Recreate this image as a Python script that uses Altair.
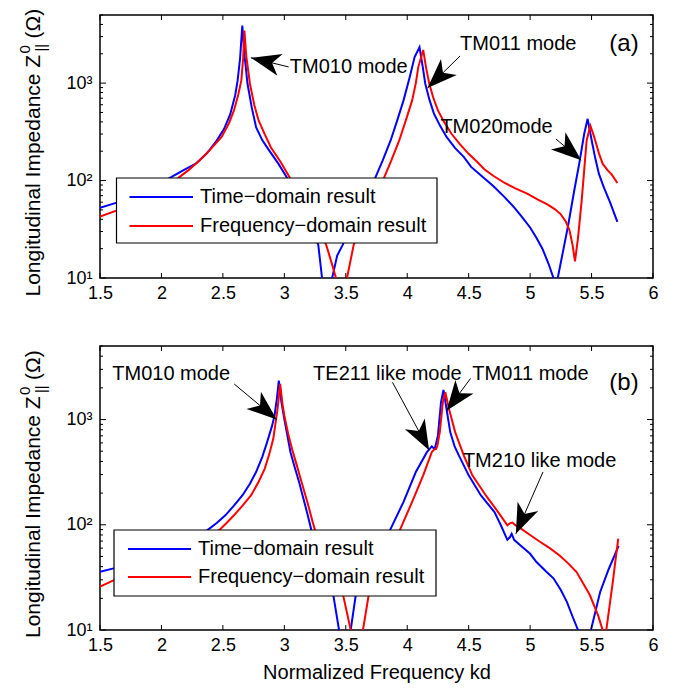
import math
import altair as alt
import pandas as pd

FONT = "Liberation Sans"
SERIES = ["Time\u2212domain result", "Frequency\u2212domain result"]
COLORS = ["#0000ff", "#ff0000"]
X_TICKS = [1.5, 2, 2.5, 3, 3.5, 4, 4.5, 5, 5.5, 6]
Y_LABELS = [10, 100, 1000]
Y_MINOR = [20, 30, 40, 50, 60, 70, 80, 90, 200, 300, 400, 500, 600, 700, 800, 900,
           2000, 3000, 4000, 5000]
X_DOMAIN = [1.5, 6]
Y_DOMAIN = [10, 5000]
X_TITLE = "Normalized Frequency kd"
Y_TITLE_MAIN = "Longitudinal Impedance Z"
Y_TITLE_SUP = "0"
Y_TITLE_SUB = "||"
Y_TITLE_END = "(\u03a9)"

# ---------------- panel (a) ----------------
a_time_x = [1.5, 1.65, 1.8, 1.95, 2.065, 2.18, 2.276, 2.37, 2.45, 2.51, 2.56, 2.60, 2.62, 2.64, 2.658,
            2.675, 2.70, 2.735, 2.77, 2.82, 2.876, 2.95, 3.018, 3.1, 3.2, 3.276, 3.307, 3.348, 3.389,
            3.43, 3.476, 3.55, 3.65, 3.73, 3.80, 3.865, 3.92, 3.97, 4.02, 4.06, 4.10, 4.125, 4.147,
            4.18, 4.218, 4.27, 4.32, 4.39, 4.46, 4.52, 4.61, 4.70, 4.79, 4.87, 4.93, 5.0, 5.05, 5.10,
            5.15, 5.19, 5.21, 5.225, 5.265, 5.31, 5.36, 5.40, 5.44, 5.468, 5.485, 5.506, 5.53, 5.56,
            5.60, 5.65, 5.71]
a_time_z = [52.6, 60, 70, 85, 106, 128, 148, 190, 257, 340, 480, 750, 1065, 1800, 3900,
            2000, 990, 560, 354, 260, 204, 150, 109, 65, 38, 22, 10, 4, 10,
            17, 22, 38, 65, 100, 160, 258, 420, 665, 1150, 1850, 2330, 1500, 985,
            680, 484, 360, 280, 215, 175, 138, 110, 88, 68, 53, 43, 33, 26, 20,
            14, 10, 7, 10, 18, 35, 80, 150, 300, 430, 330, 240, 170, 117,
            85, 60, 37.6]
a_freq_x = [1.5, 1.65, 1.8, 1.95, 2.135, 2.22, 2.31, 2.40, 2.49, 2.55, 2.59, 2.625, 2.65, 2.665, 2.675,
            2.69, 2.72, 2.755, 2.79, 2.84, 2.89, 2.97, 3.046, 3.15, 3.25, 3.34, 3.38, 3.42, 3.465, 3.51,
            3.565, 3.65, 3.73, 3.81, 3.87, 3.935, 3.99, 4.04, 4.07, 4.09, 4.13, 4.155, 4.18, 4.21, 4.25,
            4.30, 4.36, 4.43, 4.50, 4.57, 4.63, 4.70, 4.79, 4.88, 4.98, 5.06, 5.14, 5.20, 5.25, 5.29,
            5.32, 5.345, 5.365, 5.39, 5.42, 5.44, 5.46, 5.49, 5.51, 5.53, 5.56, 5.59, 5.63, 5.665, 5.71]
a_freq_z = [42.6, 50, 60, 72, 106, 128, 161, 210, 280, 390, 524, 760, 1065, 1800, 3460,
            1900, 985, 600, 416, 300, 220, 155, 106, 65, 38, 22, 15, 10, 4, 10,
            22, 40, 65, 106, 160, 258, 420, 665, 1000, 1460, 2190, 1400, 985, 720, 524,
            400, 302, 235, 188, 155, 130, 112, 95, 83, 73, 64, 57, 51, 45, 38,
            31, 22, 14.8, 26, 63, 127, 258, 366, 310, 258, 190, 149, 128, 115, 94.4]

a_note_text = ["TM010 mode", "TM011 mode", "TM020mode"]
a_note_x = [3.045, 4.43, 4.27]
a_note_z = [1480, 2512, 355]
a_arrow_tail_x = [3.035, 4.43, 5.21]
a_arrow_tail_z = [1466, 1901, 267]
a_arrow_head_x = [2.728, 4.165, 5.416]
a_arrow_head_z = [1820, 891, 162]
a_tag = "(a)"
a_tag_x = 5.645
a_tag_z = 2512

# ---------------- panel (b) ----------------
b_time_x = [1.5, 1.61, 1.8, 2.0, 2.2, 2.374, 2.45, 2.52, 2.59, 2.66, 2.72, 2.77, 2.82, 2.86, 2.90,
            2.92, 2.94, 2.955, 2.975, 3.0, 3.05, 3.085, 3.12, 3.19, 3.22, 3.30, 3.37, 3.40, 3.445, 3.49,
            3.54, 3.58, 3.70, 3.80, 3.86, 3.97, 4.07, 4.16, 4.20, 4.215, 4.225, 4.25, 4.275, 4.295, 4.32,
            4.35, 4.385, 4.42, 4.50, 4.60, 4.71, 4.76, 4.815, 4.835, 4.85, 4.87, 4.92, 5.0, 5.05, 5.13,
            5.19, 5.25, 5.30, 5.35, 5.39, 5.44, 5.495, 5.57, 5.64, 5.72]
b_time_z = [35.7, 38.5, 45, 55, 68, 89, 104, 123, 152, 191, 245, 317, 440, 610, 870,
            1090, 1600, 2340, 1500, 1010, 490, 350, 255, 124, 89, 50, 30, 21, 10, 5,
            10, 21, 40, 62, 89, 165, 317, 490, 555, 535, 530, 706, 1460, 1910, 1260,
            760, 560, 456, 295, 190, 132, 100, 72, 76, 82, 72, 64, 53, 44.5, 36,
            31, 24, 18.4, 13, 10, 6, 10, 23, 38, 63]
b_freq_x = [1.5, 1.61, 1.8, 2.0, 2.2, 2.35, 2.47, 2.53, 2.59, 2.66, 2.73, 2.79, 2.84, 2.88, 2.91,
            2.945, 2.966, 2.985, 3.0, 3.035, 3.07, 3.105, 3.14, 3.19, 3.23, 3.25, 3.35, 3.43, 3.48, 3.54,
            3.59, 3.64, 3.685, 3.80, 3.94, 4.04, 4.13, 4.20, 4.22, 4.235, 4.245, 4.265, 4.29, 4.31, 4.34,
            4.39, 4.46, 4.53, 4.64, 4.74, 4.815, 4.835, 4.856, 4.88, 4.92, 5.0, 5.08, 5.16, 5.24, 5.31,
            5.378, 5.43, 5.486, 5.554, 5.59, 5.605, 5.62, 5.67, 5.717]
b_freq_z = [25.8, 29.6, 36, 45, 58, 72, 89, 104, 123, 152, 191, 255, 340, 480, 656,
            1262, 2180, 1400, 1090, 700, 490, 355, 255, 160, 107, 89, 45, 28, 21, 10,
            5, 10, 21, 45, 89, 165, 295, 490, 520, 525, 560, 760, 1460, 1815, 1260,
            760, 456, 295, 190, 132, 99, 103, 105, 99, 93, 80, 69, 60, 51, 43,
            35.5, 28, 21.5, 13.7, 10, 6, 10, 27, 74]

b_note_text = ["TM010 mode", "TE211 like mode", "TM011 mode", "TM210 like mode"]
b_note_x = [1.60, 3.234, 4.53, 4.453]
b_note_z = [2710, 2710, 2710, 403]
b_arrow_tail_x = [2.592, 3.88, 4.515, 5.105]
b_arrow_tail_z = [2178, 2259, 2455, 318]
b_arrow_head_x = [2.938, 4.178, 4.32, 4.884]
b_arrow_head_z = [1000, 511, 1211, 82]
b_tag = "(b)"
b_tag_x = 5.645
b_tag_z = 2213

# ---------------- layout ----------------
W = 553
H_A = 263
H_B = 284
ARROW_PATH = "M0,0L-0.75,2L0,1.45L0.75,2Z"

XS = alt.Scale(domain=X_DOMAIN, nice=False, zero=False)
YS = alt.Scale(type="log", domain=Y_DOMAIN, nice=False)
ONE = pd.DataFrame({"k": [0]})


def px_x(x):
    return (x - X_DOMAIN[0]) / (X_DOMAIN[1] - X_DOMAIN[0]) * W


def px_y(v, H):
    lo, hi = math.log10(Y_DOMAIN[0]), math.log10(Y_DOMAIN[1])
    return (hi - math.log10(v)) / (hi - lo) * H


def x_axis(title):
    kw = dict(values=X_TICKS, format="~g", ticks=False, grid=False, domain=False,
              labelFont=FONT, labelFontSize=18, labelColor="black", labelPadding=6,
              labelFlush=False, labelOverlap=False)
    if title:
        kw.update(titleFont=FONT, titleFontSize=20, titleFontWeight="normal",
                  titleColor="black", titlePadding=8)
    return alt.Axis(**kw)


Y_AXIS = alt.Axis(values=Y_LABELS, ticks=False, grid=False, domain=False,
                  labelExpr="datum.value == 10 ? '10\u00b9' : datum.value == 100 ? '10\u00b2' : '10\u00b3'",
                  labelFont=FONT, labelFontSize=18, labelColor="black", labelPadding=8,
                  labelFlush=False, labelOverlap=False)


def panel(tx, tz, fx, fz, H, note_text, note_x, note_z, tail_x, tail_z, head_x, head_z,
          tag, tag_x, tag_z, box, rows, line_x, text_x, xtitle):
    xax = x_axis(xtitle)

    def X(f):
        if xtitle:
            return alt.X(f, scale=XS, axis=xax, title=xtitle)
        return alt.X(f, scale=XS, axis=xax, title=None)

    def Y(f):
        return alt.Y(f, scale=YS, axis=Y_AXIS, title=None)

    layers = []
    # curves
    for xs_, zs_, color in [(tx, tz, COLORS[0]), (fx, fz, COLORS[1])]:
        df = pd.DataFrame({"x": xs_, "z": zs_})
        layers.append(alt.Chart(df).mark_line(color=color, strokeWidth=2, clip=True)
                      .encode(x=X("x:Q"), y=Y("z:Q")))
    # inward ticks
    xt = pd.DataFrame({"x": X_TICKS})
    for y1, y2 in [(H, H - 5), (0, 5)]:
        layers.append(alt.Chart(xt).mark_rule(color="black", strokeWidth=1).encode(
            x=X("x:Q"), y=alt.value(y1), y2=alt.value(y2)))
    for vals, ln in [(Y_LABELS, 6), (Y_MINOR, 3)]:
        yt = pd.DataFrame({"z": vals})
        for x1, x2 in [(0, ln), (W, W - ln)]:
            layers.append(alt.Chart(yt).mark_rule(color="black", strokeWidth=1).encode(
                y=Y("z:Q"), x=alt.value(x1), x2=alt.value(x2)))
    # legend
    layers.append(alt.Chart(ONE).mark_rect(fill="white", stroke="black", strokeWidth=1.2).encode(
        x=alt.value(box[0]), x2=alt.value(box[1]), y=alt.value(box[2]), y2=alt.value(box[3])))
    for name, color, ry in zip(SERIES, COLORS, rows):
        layers.append(alt.Chart(ONE).mark_rule(color=color, strokeWidth=2).encode(
            x=alt.value(line_x[0]), x2=alt.value(line_x[1]), y=alt.value(ry)))
        layers.append(alt.Chart(ONE).mark_text(align="left", baseline="middle", font=FONT,
                                               fontSize=20, color="black", text=name).encode(
            x=alt.value(text_x), y=alt.value(ry)))
    # annotations
    nd = pd.DataFrame({"x": note_x, "z": note_z, "t": note_text})
    layers.append(alt.Chart(nd).mark_text(align="left", baseline="middle", font=FONT,
                                          fontSize=20, color="black").encode(
        x=X("x:Q"), y=Y("z:Q"), text="t:N"))
    td = pd.DataFrame({"x": [tag_x], "z": [tag_z], "t": [tag]})
    layers.append(alt.Chart(td).mark_text(align="left", baseline="middle", font=FONT,
                                          fontSize=24, color="black").encode(
        x=X("x:Q"), y=Y("z:Q"), text="t:N"))
    angs = []
    for a, b, c, d in zip(tail_x, tail_z, head_x, head_z):
        dx = px_x(c) - px_x(a)
        dy = px_y(d, H) - px_y(b, H)
        angs.append(math.degrees(math.atan2(dx, -dy)) % 360)
    ad = pd.DataFrame({"x": tail_x, "z": tail_z, "hx": head_x, "hz": head_z, "ang": angs})
    layers.append(alt.Chart(ad).mark_rule(color="black", strokeWidth=1).encode(
        x=X("x:Q"), y=Y("z:Q"), x2="hx:Q", y2="hz:Q"))
    hd = pd.DataFrame({"x": head_x, "z": head_z, "ang": angs})
    layers.append(alt.Chart(hd).mark_point(shape=ARROW_PATH, filled=True, color="black",
                                           opacity=1, size=900, strokeWidth=0).encode(
        x=X("x:Q"), y=Y("z:Q"), angle=alt.Angle("ang:Q", scale=None)))
    # y title pieces (rotated)
    yc = H / 2 + 150
    for txt, size, dx, dy in [(Y_TITLE_MAIN, 21, 0, 0), (Y_TITLE_SUP, 15, 243, -9),
                              (Y_TITLE_SUB, 14, 245, 8), (Y_TITLE_END, 21, 258, 0)]:
        layers.append(alt.Chart(ONE).mark_text(align="left", baseline="middle", font=FONT,
                                               fontSize=size, color="black", angle=270,
                                               dx=dx, dy=dy, text=txt).encode(
            x=alt.value(-66), y=alt.value(yc)))
    return alt.layer(*layers).properties(width=W, height=H)


pa = panel(a_time_x, a_time_z, a_freq_x, a_freq_z, H_A, a_note_text, a_note_x, a_note_z,
           a_arrow_tail_x, a_arrow_tail_z, a_arrow_head_x, a_arrow_head_z,
           a_tag, a_tag_x, a_tag_z, box=(16.5, 337, 163, 228), rows=(182, 211),
           line_x=(29.5, 93), text_x=100, xtitle=None)
pb = panel(b_time_x, b_time_z, b_freq_x, b_freq_z, H_B, b_note_text, b_note_x, b_note_z,
           b_arrow_tail_x, b_arrow_tail_z, b_arrow_head_x, b_arrow_head_z,
           b_tag, b_tag_x, b_tag_z, box=(14, 336, 184, 250), rows=(203, 231),
           line_x=(28, 91), text_x=98, xtitle=X_TITLE)

chart = (alt.vconcat(pa, pb, spacing=41)
         .properties(padding={"left": 9, "top": 0, "right": 5, "bottom": 0}, background="white")
         .configure_view(stroke="black", strokeWidth=1.5))

chart.save("out.html", embed_options={"renderer": "svg", "actions": False})
